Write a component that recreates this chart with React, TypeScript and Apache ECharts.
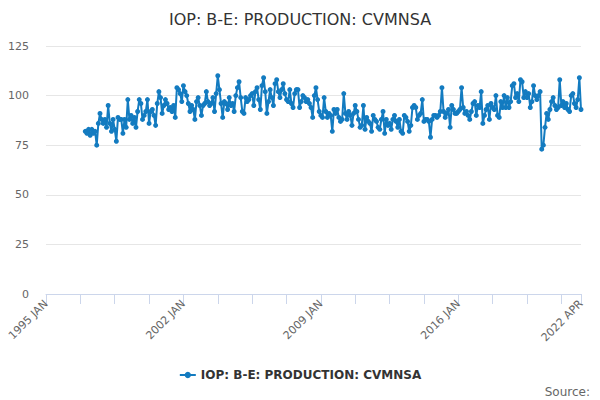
import React, { useEffect, useRef } from "react";
import * as echarts from "echarts";

const TITLE = "IOP: B-E: PRODUCTION: CVMNSA";
const SERIES_NAME = "IOP: B-E: PRODUCTION: CVMNSA";
const MONTHS = ["JAN", "FEB", "MAR", "APR", "MAY", "JUN", "JUL", "AUG", "SEP", "OCT", "NOV", "DEC"];
const FIRST_YEAR = 1995;
const LAST_YEAR = 2022;
const LAST_MONTH_INDEX = 3; // APR
const DATA_START = "1997 JAN";
const TICK_LABELS = ["1995 JAN", "2002 JAN", "2009 JAN", "2016 JAN", "2022 APR"];
const Y_TICKS = [0, 25, 50, 75, 100, 125];

const y1997 = [82, 81, 83, 80, 83, 81, 82, 75, 86, 91, 88, 86];
const y1998 = [88, 84, 95, 86, 82, 88, 83, 77, 89, 88, 88, 81];
const y1999 = [88, 84, 98, 88, 90, 86, 89, 84, 92, 98, 96, 88];
const y2000 = [90, 92, 98, 86, 92, 93, 90, 85, 96, 102, 99, 91];
const y2001 = [95, 98, 96, 93, 94, 92, 95, 89, 104, 103, 101, 97];
const y2002 = [105, 102, 100, 96, 92, 95, 93, 88, 97, 99, 95, 90];
const y2003 = [95, 96, 102, 97, 95, 96, 99, 92, 101, 110, 103, 96];
const y2004 = [89, 97, 96, 93, 99, 95, 96, 92, 100, 104, 107, 99];
const y2005 = [92, 91, 99, 97, 98, 100, 101, 95, 102, 104, 98, 93];
const y2006 = [105, 109, 102, 91, 97, 103, 99, 95, 106, 108, 102, 99];
const y2007 = [103, 106, 101, 98, 97, 103, 96, 94, 101, 103, 103, 94];
const y2008 = [97, 100, 99, 97, 98, 96, 94, 89, 100, 104, 98, 92];
const y2009 = [90, 89, 99, 92, 89, 91, 90, 82, 93, 91, 93, 89];
const y2010 = [87, 88, 101, 91, 88, 92, 90, 85, 91, 95, 92, 88];
const y2011 = [84, 85, 95, 83, 89, 87, 86, 82, 90, 88, 87, 84];
const y2012 = [83, 88, 92, 81, 88, 85, 86, 83, 88, 90, 87, 84];
const y2013 = [88, 82, 81, 90, 89, 87, 82, 85, 94, 95, 94, 88];
const y2014 = [90, 91, 98, 87, 88, 88, 87, 79, 88, 90, 90, 89];
const y2015 = [90, 92, 104, 92, 89, 91, 93, 84, 95, 93, 91, 91];
const y2016 = [92, 93, 104, 94, 91, 92, 90, 88, 92, 96, 97, 90];
const y2017 = [95, 94, 102, 86, 90, 93, 95, 88, 96, 94, 93, 100];
const y2018 = [90, 89, 97, 94, 100, 94, 99, 94, 97, 105, 106, 99];
const y2019 = [101, 97, 108, 107, 99, 102, 99, 101, 94, 97, 105, 100];
const y2020 = [98, 100, 102, 73, 75, 84, 91, 88, 93, 97, 99, 95];
const y2021 = [93, 94, 108, 95, 97, 94, 96, 93, 92, 100, 101, 96];
const y2022 = [94, 98, 109, 93];

const VALUES = [
  ...y1997, ...y1998, ...y1999, ...y2000, ...y2001, ...y2002, ...y2003,
  ...y2004, ...y2005, ...y2006, ...y2007, ...y2008, ...y2009, ...y2010,
  ...y2011, ...y2012, ...y2013, ...y2014, ...y2015, ...y2016, ...y2017,
  ...y2018, ...y2019, ...y2020, ...y2021, ...y2022,
];

function buildCategories(): string[] {
  const out: string[] = [];
  for (let y = FIRST_YEAR; y <= LAST_YEAR; y++) {
    for (let m = 0; m < 12; m++) {
      if (y === LAST_YEAR && m > LAST_MONTH_INDEX) break;
      out.push(`${y} ${MONTHS[m]}`);
    }
  }
  return out;
}

export default function App() {
  const ref = useRef<HTMLDivElement>(null);
  useEffect(() => {
    if (!ref.current) return;
    const chart = echarts.init(ref.current, null, { renderer: "svg" });
    const categories = buildCategories();
    const startIdx = categories.indexOf(DATA_START);
    const seriesData: (number | null)[] = categories.map((_, i) =>
      i >= startIdx && i - startIdx < VALUES.length ? VALUES[i - startIdx] : null
    );
    const last = categories.length - 1;
    const font = "DejaVu Sans, Verdana, sans-serif";
    chart.setOption({
      animation: false,
      backgroundColor: "#ffffff",
      textStyle: { fontFamily: font },
      title: {
        text: TITLE,
        left: "center",
        top: 6,
        textStyle: { fontSize: 16, fontWeight: "normal", color: "#333333", fontFamily: font },
      },
      grid: { left: 46, right: 19, top: 46, bottom: 106, containLabel: false },
      legend: {
        bottom: 14,
        left: "center",
        itemWidth: 16,
        itemHeight: 8,
        itemGap: 8,
        textStyle: { fontSize: 12, fontWeight: "bold", color: "#333333", fontFamily: font },
        data: [SERIES_NAME],
      },
      xAxis: {
        type: "category",
        data: categories,
        boundaryGap: false,
        axisLine: { show: true, lineStyle: { color: "#ccd6eb", width: 1 } },
        axisTick: {
          show: true,
          length: 10,
          lineStyle: { color: "#ccd6eb" },
          interval: (i: number) => i % 21 === 0 || i === last,
        },
        axisLabel: {
          rotate: 45,
          color: "#666666",
          fontSize: 11,
          margin: 8,
          fontFamily: font,
          interval: (i: number, v: string) => TICK_LABELS.includes(v),
          formatter: (v: string) => (TICK_LABELS.includes(v) ? v : ""),
        },
        splitLine: { show: false },
      },
      yAxis: {
        type: "value",
        min: Y_TICKS[0],
        max: Y_TICKS[Y_TICKS.length - 1],
        interval: 25,
        axisLine: { show: false },
        axisTick: { show: false },
        axisLabel: { color: "#666666", fontSize: 11, margin: 17, fontFamily: font },
        splitLine: { lineStyle: { color: "#e6e6e6", width: 1 } },
      },
      series: [
        {
          name: SERIES_NAME,
          type: "line",
          data: seriesData,
          connectNulls: false,
          color: "#137bc0",
          lineStyle: { width: 2, color: "#137bc0" },
          symbol: "circle",
          symbolSize: 5,
          showSymbol: true,
          showAllSymbol: true,
          itemStyle: { color: "#137bc0" },
        },
      ],
      graphic: [
        {
          type: "text",
          right: 10,
          bottom: 2,
          style: { text: "Source:", fill: "#666666", fontSize: 12, fontFamily: font },
        },
      ],
    });
    return () => chart.dispose();
  }, []);
  return <div ref={ref} style={{ position: "fixed", left: 0, top: 0, width: 600, height: 400 }} />;
}
